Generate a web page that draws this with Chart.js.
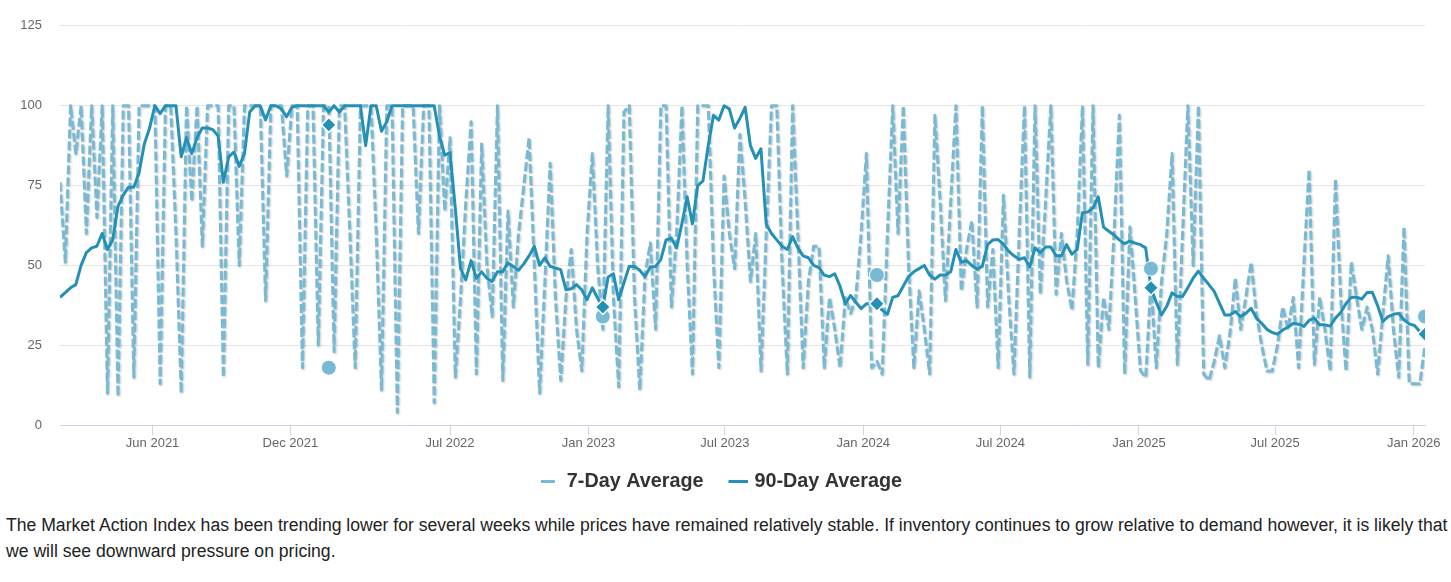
<!DOCTYPE html>
<html>
<head>
<meta charset="utf-8">
<script src="https://cdn.jsdelivr.net/npm/chart.js@4.4.0/dist/chart.umd.min.js"></script>
<style>
html,body{margin:0;padding:0;background:#fff;}
#wrap{position:relative;width:1451px;height:505px;}
#note{margin:0;position:absolute;left:6px;top:512px;width:1442px;font:17.6px/26px "Liberation Sans",Arial,sans-serif;color:#222;}
</style>
</head>
<body>
<div id="wrap"><canvas id="c"></canvas></div>
<p id="note">The Market Action Index has been trending lower for several weeks while prices have remained relatively stable. If inventory continues to grow relative to demand however, it is likely that we will see downward pressure on pricing.</p>
<script>
// first weekly observation
const startDate = '2021-01-29';

// 7-Day Average (weekly readings)
const avg7 = [
 76, 51, 100, 85, 100, 60, 100, 65, 100, 10,
 100, 9, 100, 100, 15, 100, 100, 100, 100, 13,
 100, 100, 60, 10, 100, 70, 100, 56, 100, 100,
 100, 15, 100, 100, 50, 100, 100, 100, 100, 39,
 100, 100, 100, 78, 100, 100, 18, 100, 100, 25,
 100, 100, 23, 100, 100, 60, 18, 100, 100, 100,
 60, 11, 100, 100, 4, 100, 100, 100, 60, 100,
 100, 7, 100, 67, 90, 15, 40, 70, 95, 16,
 88, 50, 34, 100, 14, 67, 37, 60, 75, 90,
 50, 10, 45, 82, 40, 14, 40, 55, 30, 17,
 60, 85, 50, 30, 100, 40, 12, 98, 100, 40,
 11, 47, 57, 30, 100, 100, 37, 60, 100, 50,
 16, 100, 100, 100, 50, 18, 78, 60, 49, 91,
 70, 45, 60, 17, 60, 100, 100, 50, 16, 100,
 60, 18, 45, 56, 56, 18, 40, 30, 18, 40,
 35, 40, 60, 85, 18, 20, 16, 60, 100, 60,
 100, 50, 18, 42, 30, 16, 97, 70, 39, 70,
 100, 42, 55, 64, 37, 100, 37, 55, 18, 72,
 40, 16, 60, 100, 15, 100, 41, 70, 100, 41,
 60, 45, 36, 60, 100, 19, 100, 18, 40, 30,
 60, 97, 16, 62, 40, 17, 15, 45, 18, 45,
 60, 85, 19, 60, 100, 50, 100, 16, 14, 20,
 28, 18, 29, 46, 30, 40, 51, 35, 25, 17,
 17, 25, 37, 30, 40, 18, 50, 80, 19, 40,
 30, 17, 77, 40, 17, 51, 40, 30, 37, 30,
 16, 35, 53, 30, 15, 62, 13, 13, 13, 25
];

// 90-Day Average (weekly readings)
const avg90 = [
 40, 41.5, 43, 44, 50, 54, 55.5, 56, 60, 55,
 58, 68.5, 72, 74.5, 74.5, 79, 88, 93, 100, 97.5,
 100, 100, 100, 84, 90, 85, 90, 93, 93, 92.5,
 90.5, 76, 84, 85.5, 81, 85, 98, 100, 100, 95.5,
 100, 100, 99, 96.5, 99.5, 100, 100, 100, 100, 100,
 100, 98, 100, 98, 100, 100, 100, 100, 87.5, 100,
 100, 92, 95, 100, 100, 100, 100, 100, 100, 100,
 100, 100, 90.5, 84.5, 85.3, 68, 49, 45.5, 51.5, 46,
 48, 46, 45, 48, 48, 50.8, 49.7, 48.5, 50.5, 53,
 56, 50, 52.4, 49.7, 49.2, 48.7, 42.4, 42.7, 44, 42.4,
 39.3, 43, 39.8, 37, 46.4, 47.4, 39.3, 44.5, 49.7, 49.7,
 48.5, 46.5, 49.5, 49.7, 51.8, 58, 58.5, 55.5, 63, 71.5,
 63, 75, 76.5, 87.5, 97, 95.5, 100, 99, 93, 96,
 99.5, 87.5, 83.5, 86.5, 63, 60, 58, 56, 55, 59,
 55.5, 53, 52.4, 50, 49.3, 47, 46.5, 47.4, 43.5, 38,
 40.6, 38.5, 36.5, 38, 38, 38, 36, 34.7, 40, 40.5,
 43.5, 46.5, 48, 49, 50, 47, 45.7, 47, 47, 48,
 55, 51, 51.5, 50, 48.8, 49.7, 56.5, 58, 58.1, 56.7,
 54.5, 53, 51.9, 52.4, 49.5, 55.5, 54, 55.8, 55.8, 53,
 53, 56.5, 53.5, 55, 66.5, 66.7, 68, 71.5, 62, 60.7,
 59.5, 58, 56.8, 57.6, 57, 56.5, 55.5, 43, 38.5, 34.5,
 37.2, 41.4, 40.3, 40.3, 43, 46, 48.2, 46, 44, 41.9,
 38.2, 34.5, 34.5, 35.6, 34, 35, 36.6, 33.5, 31.9, 30,
 29, 28.5, 29.8, 30.7, 31.8, 31.6, 30.9, 32.8, 33.5, 31.4,
 31.4, 31, 33.5, 35.3, 38, 40, 40.1, 39.5, 41.5, 41.6,
 37.5, 32.5, 34, 34.7, 35, 33, 31.7, 31.2, 29.3, 28.5
];

// same week in each year (markers)
const markerWeeks = [51, 103, 155, 207, 259];
const marker7 = [18, 34, 47, 49, 34];
const marker90 = [94, 37, 38, 43, 28.5];

// x-axis ticks
const tickDates = ['2021-06-01','2021-12-01','2022-07-01','2023-01-01','2023-07-01','2024-01-01','2024-07-01','2025-01-01','2025-07-01','2026-01-01'];
const tickLabels = ['Jun 2021','Dec 2021','Jul 2022','Jan 2023','Jul 2023','Jan 2024','Jul 2024','Jan 2025','Jul 2025','Jan 2026'];

const DAY = 86400000;
const t0 = Date.parse(startDate + 'T00:00:00Z');
const dayOf = s => (Date.parse(s + 'T00:00:00Z') - t0) / DAY;
const tickPos = tickDates.map(dayOf);
const weekX = i => i * 7;

const C7 = '#78bad3';
const C90 = '#2490b5';
const FONT = '"Liberation Sans", Arial, sans-serif';

function symbol(color, dashLen) {
  const c = document.createElement('canvas');
  c.width = 30; c.height = 3;
  const g = c.getContext('2d');
  g.fillStyle = color;
  g.fillRect(10, 0, dashLen, 3);
  return c;
}
const legendSyms = [symbol(C7, 14), symbol(C90, 20)];

const shadowPlugin = {
  id: 'shadow7',
  beforeDatasetDraw(chart, args) {
    if (args.index === 0) {
      const c = chart.ctx;
      c.save();
      c.shadowColor = 'rgba(0,0,0,0.22)';
      c.shadowOffsetX = 1;
      c.shadowOffsetY = 1;
      c.shadowBlur = 2;
    }
  },
  afterDatasetDraw(chart, args) {
    if (args.index === 0) chart.ctx.restore();
  }
};

new Chart(document.getElementById('c'), {
  type: 'line',
  data: {
    datasets: [
      {
        label: '7-Day Average',
        data: avg7.map((v, i) => ({x: weekX(i), y: v})),
        borderColor: C7, backgroundColor: C7,
        borderWidth: 3, borderDash: [9, 3],
        borderJoinStyle: 'round', borderCapStyle: 'butt',
        pointRadius: 0, tension: 0, order: 3
      },
      {
        label: '90-Day Average',
        data: avg90.map((v, i) => ({x: weekX(i), y: v})),
        borderColor: C90, backgroundColor: C90,
        borderWidth: 3, borderJoinStyle: 'round',
        pointRadius: 0, tension: 0, order: 2
      },
      {
        label: 'm7', type: 'scatter',
        data: marker7.map((v, k) => ({x: weekX(markerWeeks[k]), y: v})),
        pointStyle: 'circle', pointRadius: 7.5,
        backgroundColor: C7, borderColor: '#ffffff', borderWidth: 1,
        showLine: false, order: 1
      },
      {
        label: 'm90', type: 'scatter',
        data: marker90.map((v, k) => ({x: weekX(markerWeeks[k]), y: v})),
        pointStyle: 'rectRot', pointRadius: 7.5,
        backgroundColor: C90, borderColor: '#ffffff', borderWidth: 1.5,
        showLine: false, order: 0
      }
    ]
  },
  options: {
    responsive: true,
    maintainAspectRatio: false,
    animation: false,
    events: [],
    layout: { padding: { top: 25, right: 26, left: 12, bottom: 4 } },
    scales: {
      x: {
        type: 'linear',
        min: 0, max: weekX(avg7.length - 1),
        afterBuildTicks: s => { s.ticks = tickPos.map(v => ({value: v})); },
        afterFit: s => { s.height = 27; },
        ticks: {
          autoSkip: false, maxRotation: 0, padding: 0,
          color: '#666', font: {family: FONT, size: 13},
          callback: (v, i) => tickLabels[i]
        },
        grid: { drawOnChartArea: false, drawTicks: true, tickLength: 10, color: '#ccd6eb', lineWidth: 1 },
        border: { display: true, color: '#ccd6eb', width: 1 }
      },
      y: {
        min: 0, max: 125,
        afterFit: s => { s.width = 48; },
        ticks: {
          stepSize: 25, padding: 18,
          color: '#666', font: {family: FONT, size: 13}
        },
        grid: { color: '#e6e6e6', lineWidth: 1, drawTicks: false },
        border: { display: false }
      }
    },
    plugins: {
      tooltip: { enabled: false },
      legend: {
        position: 'bottom',
        labels: {
          usePointStyle: true,
          pointStyleWidth: 22,
          padding: 19,
          color: '#333',
          font: {family: FONT, size: 19.8, weight: 'bold'},
          generateLabels(chart) {
            const items = Chart.defaults.plugins.legend.labels.generateLabels(chart);
            return items.filter(it => it.datasetIndex < 2)
              .sort((a, b) => a.datasetIndex - b.datasetIndex)
              .map(it => { it.pointStyle = legendSyms[it.datasetIndex]; it.lineDash = []; return it; });
          }
        }
      }
    }
  },
  plugins: [shadowPlugin]
});
</script>
</body>
</html>
